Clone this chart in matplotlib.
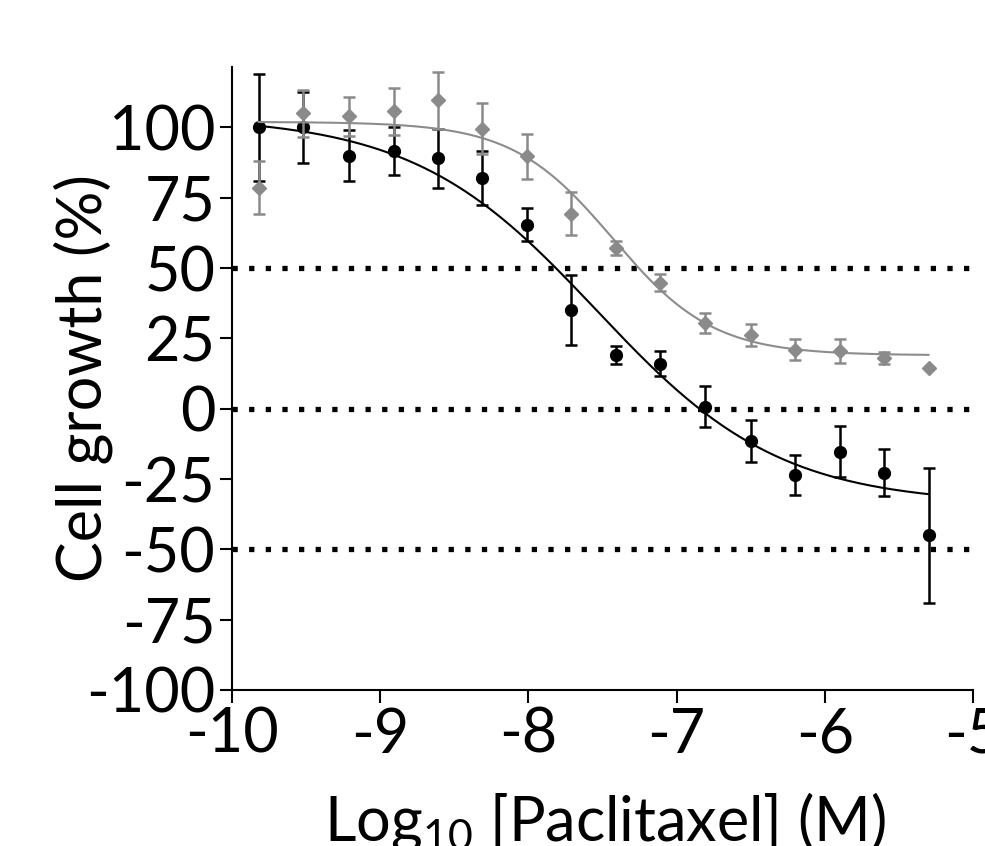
import numpy as np
import matplotlib
matplotlib.use("Agg")
import matplotlib.pyplot as plt

plt.rcParams['font.family'] = ['Lato', 'DejaVu Sans']
plt.rcParams['mathtext.fontset'] = 'custom'
plt.rcParams['mathtext.rm'] = 'Lato'
plt.rcParams['axes.unicode_minus'] = False

# log10 concentrations (M), 2-fold dilutions from 5 uM
log_conc = [-9.82, -9.52, -9.21, -8.91, -8.61, -8.31, -8.01, -7.71,
            -7.41, -7.11, -6.81, -6.50, -6.20, -5.90, -5.60, -5.30]

# black circles
black_mean = [100, 100, 90, 91.5, 89, 82, 65.5, 35,
              19, 16, 0.7, -11.4, -23.5, -15.3, -22.7, -45]
black_err = [19, 12.5, 9, 8.5, 10.5, 9.5, 6, 12.5,
             3.2, 4.5, 7.3, 7.5, 7, 9, 8.5, 24]

# grey diamonds
grey_mean = [78.6, 105, 104, 105.7, 109.6, 99.6, 89.7, 69.4,
             57.3, 44.8, 30.6, 26.3, 21, 20.6, 18, 14.6]
grey_err = [9.5, 8.5, 7, 8.5, 10, 9, 8, 7.7,
            2.5, 3, 3.5, 4, 3.7, 4.3, 2, 0]

# four-parameter fits: top, bottom, logIC50, hill
black_fit = (104, -34, -7.54, 0.70)
grey_fit = (102, 19, -7.43, 1.28)

ref_lines = [50, 0, -50]
y_ticks = [100, 75, 50, 25, 0, -25, -50, -75, -100]
x_ticks = [-10, -9, -8, -7, -6, -5]


def four_pl(x, top, bottom, logic50, hill):
    return bottom + (top - bottom) / (1 + 10 ** ((x - logic50) * hill))


fig = plt.figure(figsize=(9.85, 8.46), dpi=100)
ax = fig.add_axes([0.2355, 0.1844, 0.7523, 0.7364])

# dotted reference lines
for y in ref_lines:
    ax.axhline(y, color='black', lw=3.8, linestyle=(0, (1, 2.15)), dash_capstyle='butt', zorder=1)

xfit = np.linspace(log_conc[0], log_conc[-1], 300)

# black series
ax.plot(xfit, four_pl(xfit, *black_fit), color='black', lw=1.5, zorder=2)
ax.errorbar(log_conc, black_mean, yerr=black_err, fmt='o', color='black',
            ms=8.5, elinewidth=1.8, capsize=4.5, capthick=1.8, zorder=3)

# grey series
ax.plot(xfit, four_pl(xfit, *grey_fit), color='#8c8c8c', lw=1.5, zorder=4)
ax.errorbar(log_conc, grey_mean, yerr=grey_err, fmt='D', color='#8a8a8a',
            ms=7.5, elinewidth=1.8, capsize=4.5, capthick=1.8, zorder=5)

ax.set_xlim(-10, -5)
ax.set_ylim(-100, 121.5)
ax.set_xticks(x_ticks)
ax.set_yticks(y_ticks)
ax.set_xticklabels([str(t) for t in x_ticks])
ax.set_yticklabels([str(t) for t in y_ticks])

for side in ['top', 'right']:
    ax.spines[side].set_visible(False)
for side in ['left', 'bottom']:
    ax.spines[side].set_linewidth(1.5)

ax.tick_params(axis='both', labelsize=44, length=9, width=1.5, direction='out', pad=3)

ax.set_ylabel('Cell growth (%)', fontsize=44)
ax.yaxis.set_label_coords(-0.16, 0.5)
ax.set_xlabel('Log$_{10}$ [Paclitaxel] (M)', fontsize=44)
ax.xaxis.set_label_coords(0.503, -0.16)

fig.savefig('out.png', dpi=100)
